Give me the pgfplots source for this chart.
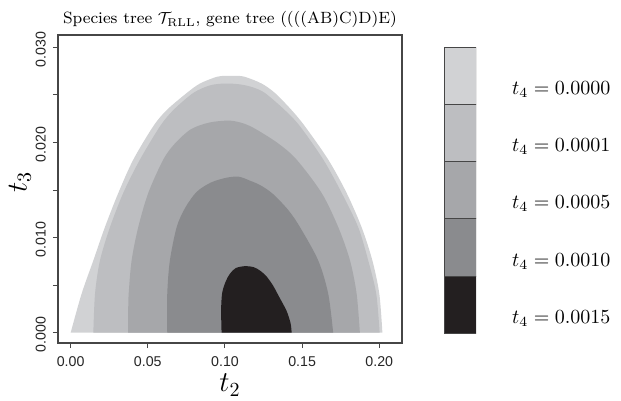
\documentclass[border=0pt]{standalone}
\usepackage{pgfplots}
\pgfplotsset{compat=1.18}
\usepackage{fontspec}
\setsansfont{Liberation Sans}
\definecolor{cA}{RGB}{209,210,212}
\definecolor{cB}{RGB}{189,190,193}
\definecolor{cC}{RGB}{166,167,170}
\definecolor{cD}{RGB}{138,139,142}
\definecolor{cE}{RGB}{35,31,32}
\definecolor{frame}{RGB}{70,70,70}
\begin{document}
\begin{tikzpicture}
\useasboundingbox (-29pt,-29pt) rectangle (281.5pt,171.5pt);
\begin{axis}[
  at={(0pt,0pt)}, anchor=south west,
  scale only axis, width=172pt, height=154pt,
  xmin=-0.0082, xmax=0.2147, ymin=-0.00108, ymax=0.0313,
  scaled x ticks=false, scaled y ticks=false,
  xtick={0,0.05,0.1,0.15,0.2},
  xticklabels={0.00,0.05,0.10,0.15,0.20},
  ytick={0,0.005,0.01,0.015,0.02,0.025,0.03},
  yticklabels={0.000,,0.010,,0.020,,0.030},
  tick align=outside, tick pos=left, major tick length=2.6pt,
  axis line style={draw=frame, line width=0.6pt},
  tick style={draw=frame, line width=0.5pt},
  /pgf/number format/assume math mode=true,
  ticklabel style={font=\sffamily\fontsize{7.1}{8}\selectfont, text=black!85},
  xticklabel style={yshift=-0.5pt},
  yticklabel style={rotate=90, anchor=south, xshift=-1pt},
  xlabel={$t_2$}, ylabel={$t_3$},
  label style={font=\fontsize{14}{14}\selectfont},
  xlabel style={yshift=3pt},
  ylabel style={yshift=-4.5pt, xshift=3.5pt},
  title={Species tree $\mathcal{T}_{\mathrm{RLL}}$, gene tree ((((AB)C)D)E)},
  title style={font=\fontsize{8.15}{10}\selectfont, anchor=base, at={(0.5,1)}, yshift=-0.5pt},
]
% t4 = 0.0000 (outer region)
\addplot[fill=cA, draw=none, smooth, tension=0.5] coordinates {
(0.0000,0) (0.0071,0.0041) (0.0147,0.0076) (0.0222,0.0111) (0.0309,0.0147)
(0.0406,0.0182) (0.0535,0.0217) (0.0622,0.0234) (0.0752,0.0252) (0.0838,0.0262)
(0.0946,0.0269) (0.1000,0.0270) (0.1080,0.0270) (0.1130,0.0269) (0.1237,0.0262)
(0.1324,0.0252) (0.1432,0.0234) (0.1518,0.0217) (0.1669,0.0182) (0.1788,0.0147)
(0.1885,0.0111) (0.1955,0.0076) (0.2000,0.0041) (0.2020,0)} -- cycle;
% t4 = 0.0001
\addplot[fill=cB, draw=none, smooth, tension=0.5] coordinates {
(0.0147,0) (0.0158,0.0041) (0.0190,0.0076) (0.0255,0.0111) (0.0341,0.0147)
(0.0449,0.0182) (0.0579,0.0217) (0.0665,0.0234) (0.0794,0.0252) (0.0902,0.0260)
(0.1000,0.0262) (0.1100,0.0261) (0.1180,0.0258) (0.1259,0.0252) (0.1388,0.0234)
(0.1486,0.0217) (0.1637,0.0182) (0.1756,0.0147) (0.1863,0.0111) (0.1928,0.0076)
(0.1980,0.0041) (0.2002,0)} -- cycle;
% t4 = 0.0005
\addplot[fill=cC, draw=none, smooth, tension=0.5] coordinates {
(0.0373,0) (0.0373,0.0024) (0.0376,0.0041) (0.0395,0.0076) (0.0438,0.0111)
(0.0503,0.0147) (0.0600,0.0182) (0.0676,0.0199) (0.0780,0.0214) (0.0900,0.0221)
(0.1030,0.0223) (0.1120,0.0220) (0.1200,0.0214) (0.1345,0.0199) (0.1464,0.0182)
(0.1626,0.0147) (0.1734,0.0111) (0.1810,0.0076) (0.1853,0.0041) (0.1874,0)} -- cycle;
% t4 = 0.0010
\addplot[fill=cD, draw=none, smooth, tension=0.5] coordinates {
(0.0626,0) (0.0626,0.0041) (0.0643,0.0076) (0.0687,0.0111) (0.0741,0.0131)
(0.0816,0.0148) (0.0910,0.0158) (0.1011,0.0163) (0.1090,0.0164) (0.1160,0.0160)
(0.1230,0.0155) (0.1310,0.0146) (0.1410,0.0129) (0.1486,0.0111) (0.1604,0.0076)
(0.1669,0.0041) (0.1701,0)} -- cycle;
% t4 = 0.0015
\addplot[fill=cE, draw=none, smooth, tension=0.5] coordinates {
(0.0978,0) (0.0975,0.0024) (0.0982,0.0042) (0.1005,0.0054) (0.1032,0.0062)
(0.1070,0.0068) (0.1130,0.0070) (0.1185,0.0069) (0.1230,0.0065) (0.1270,0.0059)
(0.1310,0.0050) (0.1350,0.0038) (0.1399,0.0023) (0.1425,0.0010) (0.1432,0)} -- cycle;
\end{axis}
\begin{axis}[
  at={(193pt,4.85pt)}, anchor=south west,
  scale only axis, width=16pt, height=143pt,
  xmin=0, xmax=1, ymin=0, ymax=5,
  axis line style={draw=none},
  xtick=\empty,
  ytick={0.5,1.5,2.5,3.5,4.5},
  yticklabels={{$t_4 = 0.0015$},{$t_4 = 0.0010$},{$t_4 = 0.0005$},{$t_4 = 0.0001$},{$t_4 = 0.0000$}},
  yticklabel pos=right, major tick length=0pt,
  yticklabel style={anchor=west, xshift=14.5pt, yshift=-6.8pt, font=\fontsize{10.2}{12}\selectfont},
]
\addplot[fill=cE, draw=frame, line width=0.5pt] coordinates {(0,0) (1,0) (1,1) (0,1)} -- cycle;
\addplot[fill=cD, draw=frame, line width=0.5pt] coordinates {(0,1) (1,1) (1,2) (0,2)} -- cycle;
\addplot[fill=cC, draw=frame, line width=0.5pt] coordinates {(0,2) (1,2) (1,3) (0,3)} -- cycle;
\addplot[fill=cB, draw=frame, line width=0.5pt] coordinates {(0,3) (1,3) (1,4) (0,4)} -- cycle;
\addplot[fill=cA, draw=frame, line width=0.5pt] coordinates {(0,4) (1,4) (1,5) (0,5)} -- cycle;
\end{axis}
\end{tikzpicture}
\end{document}
